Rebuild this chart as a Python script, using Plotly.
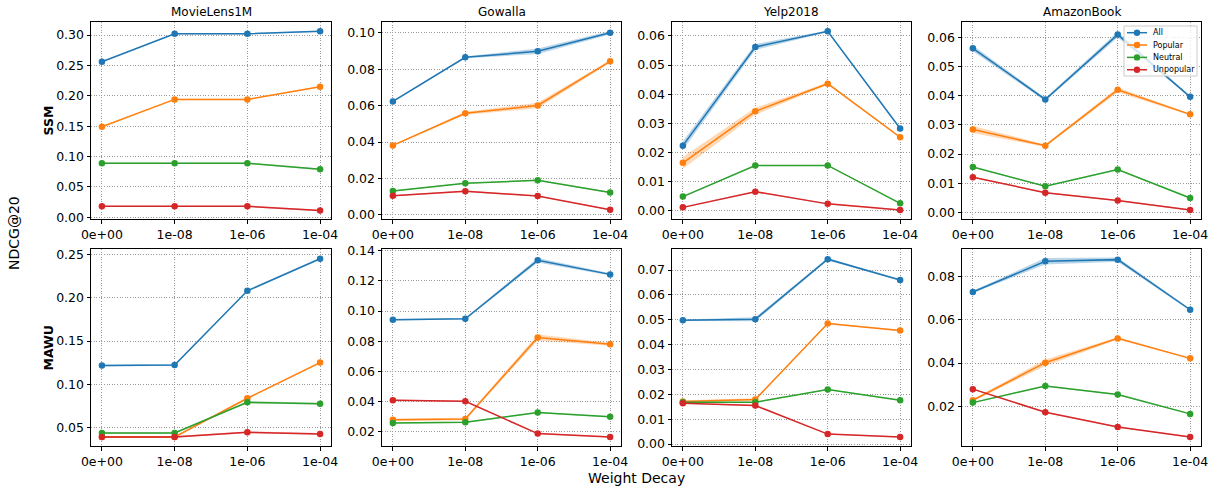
import plotly.graph_objects as go

W, H = 1212, 491

datasets = ["MovieLens1M", "Gowalla", "Yelp2018", "AmazonBook"]
methods = ["SSM", "MAWU"]
groups = ["All", "Popular", "Neutral", "Unpopular"]
x_labels = ["0e+00", "1e-08", "1e-06", "1e-04"]
colors = ["#1f77b4", "#ff7f0e", "#2ca02c", "#d62728"]
band_colors = ["rgba(31,119,180,0.3)", "rgba(255,127,14,0.3)",
               "rgba(44,160,44,0.3)", "rgba(214,39,40,0.3)"]

# ---- SSM row ----
ssm_ml1m_all = [0.256, 0.302, 0.302, 0.306]
ssm_ml1m_pop = [0.149, 0.194, 0.194, 0.215]
ssm_ml1m_neu = [0.089, 0.089, 0.089, 0.079]
ssm_ml1m_unp = [0.018, 0.018, 0.018, 0.011]

ssm_gow_all = [0.0623, 0.0865, 0.0898, 0.1000]
ssm_gow_pop = [0.0382, 0.0558, 0.0601, 0.0843]
ssm_gow_neu = [0.0132, 0.0174, 0.0190, 0.0124]
ssm_gow_unp = [0.0106, 0.0130, 0.0104, 0.0029]

ssm_yelp_all = [0.0223, 0.0562, 0.0616, 0.0282]
ssm_yelp_pop = [0.0164, 0.0341, 0.0436, 0.0252]
ssm_yelp_neu = [0.0048, 0.0155, 0.0155, 0.0025]
ssm_yelp_unp = [0.0011, 0.0065, 0.0023, 0.0002]

ssm_amz_all = [0.0562, 0.0387, 0.0609, 0.0396]
ssm_amz_pop = [0.0284, 0.0229, 0.0420, 0.0336]
ssm_amz_neu = [0.0156, 0.0090, 0.0147, 0.0050]
ssm_amz_unp = [0.0121, 0.0068, 0.0041, 0.0009]

# ---- MAWU row ----
mawu_ml1m_all = [0.1217, 0.1224, 0.2080, 0.2450]
mawu_ml1m_pop = [0.0392, 0.0392, 0.0839, 0.1251]
mawu_ml1m_neu = [0.0438, 0.0438, 0.0793, 0.0777]
mawu_ml1m_unp = [0.0392, 0.0392, 0.0446, 0.0427]

mawu_gow_all = [0.0943, 0.0949, 0.1336, 0.1243]
mawu_gow_pop = [0.0280, 0.0286, 0.0825, 0.0781]
mawu_gow_neu = [0.0260, 0.0264, 0.0328, 0.0300]
mawu_gow_unp = [0.0410, 0.0403, 0.0189, 0.0167]

mawu_yelp_all = [0.0498, 0.0502, 0.0744, 0.0660]
mawu_yelp_pop = [0.0171, 0.0179, 0.0485, 0.0457]
mawu_yelp_neu = [0.0168, 0.0168, 0.0219, 0.0176]
mawu_yelp_unp = [0.0164, 0.0155, 0.0040, 0.0028]

mawu_amz_all = [0.0728, 0.0869, 0.0877, 0.0646]
mawu_amz_pop = [0.0229, 0.0402, 0.0514, 0.0422]
mawu_amz_neu = [0.0218, 0.0295, 0.0255, 0.0166]
mawu_amz_unp = [0.0280, 0.0174, 0.0106, 0.0060]

# ---- std bands (All, Popular, Neutral, Unpopular) ----
ssm_ml1m_std = [[0.001, 0.001, 0.001, 0.001], [0.001, 0.001, 0.001, 0.001],
                [0.001, 0.001, 0.001, 0.0015], [0.001, 0.001, 0.001, 0.0015]]
ssm_gow_std = [[0.0004, 0.0005, 0.0015, 0.001], [0.0004, 0.0008, 0.0015, 0.0008],
               [0.0003, 0.0003, 0.0003, 0.0003], [0.0003, 0.0004, 0.0003, 0.0003]]
ssm_yelp_std = [[0.0015, 0.001, 0.0003, 0.0003], [0.002, 0.0012, 0.0004, 0.0003],
                [0.0002, 0.0002, 0.0002, 0.0002], [0.0002, 0.0002, 0.0002, 0.0002]]
ssm_amz_std = [[0.001, 0.0005, 0.001, 0.0003], [0.0012, 0.0004, 0.0008, 0.0003],
               [0.0002, 0.0002, 0.0002, 0.0002], [0.0002, 0.0002, 0.0002, 0.0002]]
mawu_ml1m_std = [[0.001, 0.001, 0.001, 0.001], [0.0008, 0.0008, 0.001, 0.001],
                 [0.001, 0.001, 0.0012, 0.001], [0.001, 0.001, 0.001, 0.001]]
mawu_gow_std = [[0.0005, 0.0005, 0.0015, 0.0008], [0.0008, 0.0008, 0.002, 0.001],
                [0.0004, 0.0004, 0.0004, 0.0004], [0.0004, 0.0004, 0.0004, 0.0004]]
mawu_yelp_std = [[0.0003, 0.0008, 0.0005, 0.0003], [0.0005, 0.0005, 0.0003, 0.0003],
                 [0.0002, 0.0002, 0.0002, 0.0002], [0.0002, 0.0003, 0.0002, 0.0002]]
mawu_amz_std = [[0.0005, 0.0015, 0.001, 0.0005], [0.0005, 0.0015, 0.0005, 0.0003],
                [0.0003, 0.0003, 0.0003, 0.0003], [0.0003, 0.0003, 0.0003, 0.0003]]

panels = [
    [  # SSM
        ([ssm_ml1m_all, ssm_ml1m_pop, ssm_ml1m_neu, ssm_ml1m_unp], ssm_ml1m_std),
        ([ssm_gow_all, ssm_gow_pop, ssm_gow_neu, ssm_gow_unp], ssm_gow_std),
        ([ssm_yelp_all, ssm_yelp_pop, ssm_yelp_neu, ssm_yelp_unp], ssm_yelp_std),
        ([ssm_amz_all, ssm_amz_pop, ssm_amz_neu, ssm_amz_unp], ssm_amz_std),
    ],
    [  # MAWU
        ([mawu_ml1m_all, mawu_ml1m_pop, mawu_ml1m_neu, mawu_ml1m_unp], mawu_ml1m_std),
        ([mawu_gow_all, mawu_gow_pop, mawu_gow_neu, mawu_gow_unp], mawu_gow_std),
        ([mawu_yelp_all, mawu_yelp_pop, mawu_yelp_neu, mawu_yelp_unp], mawu_yelp_std),
        ([mawu_amz_all, mawu_amz_pop, mawu_amz_neu, mawu_amz_unp], mawu_amz_std),
    ],
]

# axis ranges / ticks
y_ranges = [
    [(-0.0028, 0.3214), (-0.0022, 0.1059), (-0.0029, 0.0648), (-0.0022, 0.0652)],
    [(0.0288, 0.2562), (0.0107, 0.1411), (-0.0008, 0.0785), (0.0018, 0.0926)],
]
y_ticks = [
    [(0.0, 0.05), (0.0, 0.02), (0.0, 0.01), (0.0, 0.01)],
    [(0.05, 0.05), (0.02, 0.02), (0.0, 0.01), (0.02, 0.02)],
]

# layout geometry (pixels)
col_px = [(91, 331), (382, 621), (672, 911), (962, 1201)]
row_px = [(22, 219), (249, 446)]

fig = go.Figure()
xs = list(range(len(x_labels)))
FONT = "DejaVu Sans"

for r in range(2):
    for c in range(4):
        idx = r * 4 + c + 1
        xa = "x" if idx == 1 else f"x{idx}"
        ya = "y" if idx == 1 else f"y{idx}"
        series, stds = panels[r][c]
        for g in range(4):
            m = series[g]
            s = stds[g]
            upper = [a + b for a, b in zip(m, s)]
            lower = [a - b for a, b in zip(m, s)]
            fig.add_trace(go.Scatter(
                x=xs + xs[::-1], y=upper + lower[::-1], fill="toself",
                fillcolor=band_colors[g], line=dict(width=0), mode="lines",
                hoverinfo="skip", showlegend=False, xaxis=xa, yaxis=ya))
        for g in range(4):
            fig.add_trace(go.Scatter(
                x=xs, y=series[g], mode="lines+markers", name=groups[g],
                line=dict(color=colors[g], width=1.5),
                marker=dict(color=colors[g], size=6.5),
                showlegend=False, xaxis=xa, yaxis=ya))

        x0, x1 = col_px[c]
        y0, y1 = row_px[r]
        lo, hi = y_ranges[r][c]
        t0, dt = y_ticks[r][c]
        common = dict(showline=True, linecolor="black", linewidth=1, mirror=True,
                      ticks="outside", ticklen=3.5, tickwidth=1, tickcolor="black",
                      showgrid=True, gridcolor="#9a9a9a", gridwidth=0.8,
                      griddash="1px,1.6px", zeroline=False, automargin=False,
                      tickfont=dict(family=FONT, size=12.5, color="black"))
        fig.layout[("xaxis" if idx == 1 else f"xaxis{idx}")] = dict(
            domain=[x0 / W, x1 / W], anchor=ya, range=[-0.15, 3.15],
            tickmode="array", tickvals=xs, ticktext=x_labels, **common)
        fig.layout[("yaxis" if idx == 1 else f"yaxis{idx}")] = dict(
            domain=[1 - y1 / H, 1 - y0 / H], anchor=xa, range=[lo, hi],
            tick0=t0, dtick=dt, tickformat=".2f", **common)

annotations = []
shapes = []
for c, name in enumerate(datasets):
    x0, x1 = col_px[c]
    annotations.append(dict(text=name, x=(x0 + x1) / 2 / W, y=1 - 12 / H,
                            xref="paper", yref="paper", showarrow=False,
                            xanchor="center", yanchor="middle",
                            font=dict(family=FONT, size=12, color="black")))
for r, name in enumerate(methods):
    y0, y1 = row_px[r]
    annotations.append(dict(text=f"<b>{name}</b>", x=48 / W, y=1 - (y0 + y1) / 2 / H,
                            xref="paper", yref="paper", showarrow=False, textangle=-90,
                            xanchor="center", yanchor="middle",
                            font=dict(family=FONT, size=12.5, color="black")))
annotations.append(dict(text="NDCG@20", x=14 / W, y=1 - 233 / H, xref="paper", yref="paper",
                        showarrow=False, textangle=-90, xanchor="center", yanchor="middle",
                        font=dict(family=FONT, size=14, color="black")))
annotations.append(dict(text="Weight Decay", x=637 / W, y=1 - 478 / H, xref="paper",
                        yref="paper", showarrow=False, xanchor="center", yanchor="middle",
                        font=dict(family=FONT, size=14, color="black")))

# compact legend box (matplotlib style) in the AmazonBook / SSM panel
LX0, LX1, LY0, LY1 = 1124, 1197, 26, 76
shapes.append(dict(type="rect", xref="paper", yref="paper",
                   x0=LX0 / W, x1=LX1 / W, y0=1 - LY1 / H, y1=1 - LY0 / H,
                   fillcolor="rgba(255,255,255,0.8)", line=dict(color="#cccccc", width=1),
                   layer="above"))
for g, name in enumerate(groups):
    yy = 1 - (32.7 + 12.35 * g) / H
    shapes.append(dict(type="line", xref="paper", yref="paper",
                       x0=1127 / W, x1=1147 / W, y0=yy, y1=yy,
                       line=dict(color=colors[g], width=1.5), layer="above"))
    shapes.append(dict(type="circle", xref="paper", yref="paper",
                       x0=(1137 - 3.2) / W, x1=(1137 + 3.2) / W,
                       y0=yy - 3.2 / H, y1=yy + 3.2 / H,
                       fillcolor=colors[g], line=dict(color=colors[g], width=0),
                       layer="above"))
    annotations.append(dict(text=name, x=1151 / W, y=yy, xref="paper", yref="paper",
                            showarrow=False, xanchor="left", yanchor="middle",
                            font=dict(family=FONT, size=8, color="black")))

fig.update_layout(
    width=W, height=H, margin=dict(l=0, r=0, t=0, b=0, autoexpand=False),
    paper_bgcolor="white", plot_bgcolor="white",
    annotations=annotations, shapes=shapes, showlegend=False,
    font=dict(family=FONT),
)

fig.write_html(
    "out.html",
    config={"displayModeBar": False},
    post_script="document.body.style.margin='0';document.body.style.padding='0';"
                "document.body.style.overflow='hidden';",
)
